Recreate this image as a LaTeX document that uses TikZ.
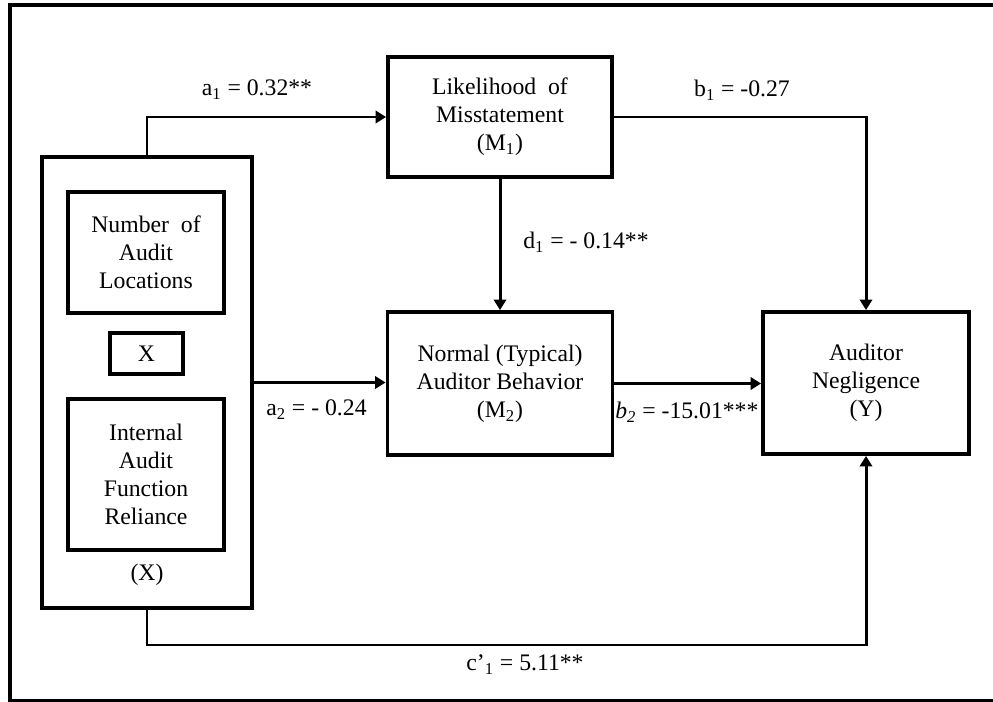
\documentclass[tikz,border=0pt]{standalone}
\usepackage{fontspec}
\setmainfont{Liberation Serif}
\usepackage{tikz}
\usetikzlibrary{arrows.meta,positioning}

\begin{document}
\begin{tikzpicture}[x=0.02cm,y=-0.02cm,box/.style={draw,line width=2.2pt,align=center,inner sep=0pt,font=\fontsize{13.5}{16}\selectfont},lbl/.style={inner sep=0pt,font=\fontsize{13.5}{16}\selectfont},arr/.style={-{Triangle[length=6pt,width=7pt]},line width=1.7pt}]

\useasboundingbox (0,0) rectangle (993,702);
\draw[line width=2.6pt] (10,5) rectangle (1010,701);

\node[box,minimum width=4.2cm,minimum height=9.02cm] (xbox) at (147,382.5) {};
\node[box,minimum width=3.12cm,minimum height=2.42cm] (nal) at (146,252.5) {Number\ \ of\\Audit\\Locations};
\node[box,minimum width=1.46cm,minimum height=0.82cm] (inter) at (146.5,353.5) {X};
\node[box,minimum width=3.12cm,minimum height=3.02cm] (iaf) at (146,474.5) {Internal\\Audit\\Function\\Reliance};
\node[lbl] (xlab) at (147,575) {(X)};
\node[box,minimum width=4.48cm,minimum height=2.4cm] (m1) at (500,117) {Likelihood\ \ of\\Misstatement\\(M\textsubscript{1})};
\node[box,minimum width=4.5cm,minimum height=2.86cm] (m2) at (500,383.5) {Normal (Typical)\\Auditor Behavior\\(M\textsubscript{2})};
\node[box,minimum width=4.12cm,minimum height=2.84cm] (yn) at (866,383) {Auditor\\Negligence\\(Y)};
\coordinate (low) at (500,645);

\draw[arr] (xbox.north) |- (m1.west);
\draw[arr] (m1.east) -| (yn.north);
\draw[arr] (m1.south) -- (m2.north);
\draw[arr] (xbox.east) -- (xbox.east -| m2.west);
\draw[arr] (m2.east) -- (m2.east -| yn.west);
\draw[arr] (xbox.south) |- (low) -| (yn.south);

\node[lbl] (a1) at (257,90) {a\textsubscript{1} = 0.32**};
\node[lbl] (b1) at (742,90) {b\textsubscript{1} = -0.27};
\node[lbl,anchor=west] (d1) at (523,242) {d\textsubscript{1} = - 0.14**};
\node[lbl,anchor=west] (a2) at (266,410) {a\textsubscript{2} = - 0.24};
\node[lbl,anchor=west] (b2) at (615,412) {\textit{b}\textsubscript{\textit{2}} = -15.01***};
\node[lbl] (c1) at (525,665) {c’\textsubscript{1} = 5.11**};
\end{tikzpicture}
\end{document}
